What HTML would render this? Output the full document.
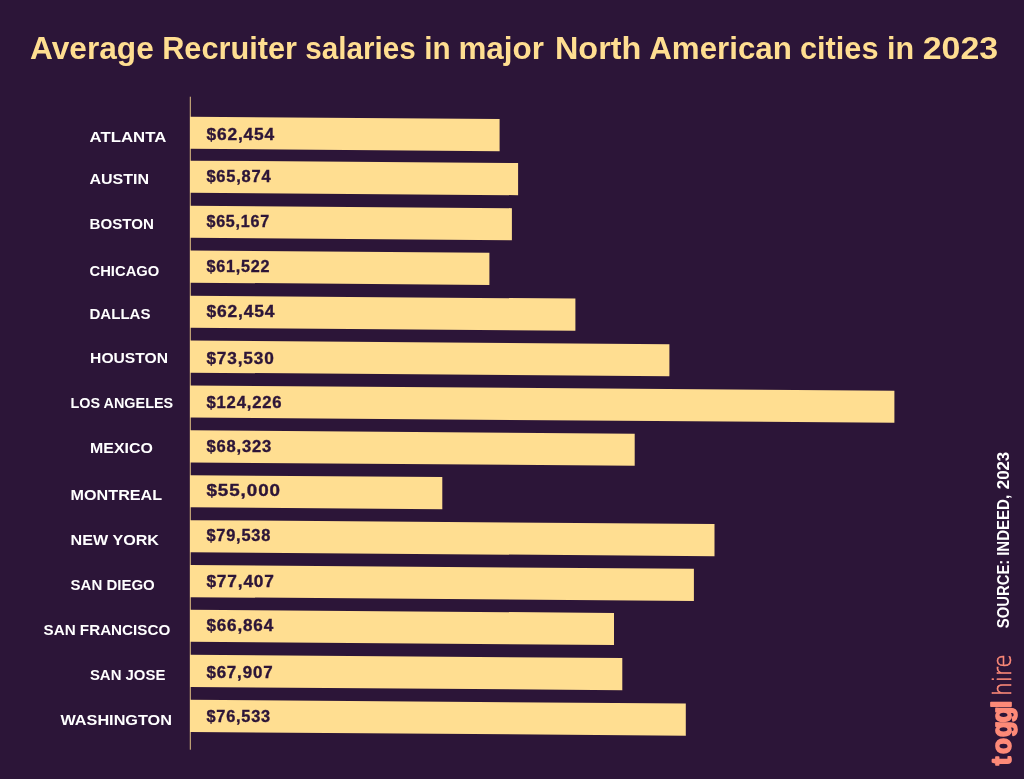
<!DOCTYPE html>
<html><head><meta charset="utf-8"><title>Average Recruiter salaries in major North American cities in 2023</title>
<style>
html,body{margin:0;padding:0;background:#2C1538;}
body{width:1024px;height:779px;overflow:hidden;}
svg{display:block;}
.title{font-family:"Liberation Sans",Arial,sans-serif;font-weight:700;font-size:30.8px;fill:#FFDE91;}
.lab{font-family:"Liberation Sans",Arial,sans-serif;font-weight:700;font-size:15.5px;fill:#FFFFFF;}
.val{font-family:"Liberation Sans",Arial,sans-serif;font-weight:700;font-size:16.2px;fill:#2C1538;letter-spacing:0.8px;stroke:#2C1538;stroke-width:0.35;}
.src{font-family:"Liberation Sans",Arial,sans-serif;font-weight:700;font-size:16.2px;fill:#FFFFFF;}
.tg{font-family:"Liberation Sans",Arial,sans-serif;font-weight:700;font-size:26px;fill:#FD8A78;stroke:#FD8A78;stroke-width:1.6;stroke-linejoin:round;}
.hr{font-family:"DejaVu Sans",sans-serif;font-weight:200;font-size:25px;fill:#FD8A78;stroke:#FD8A78;stroke-width:0.6;}
</style></head>
<body>
<svg width="1024" height="779" viewBox="0 0 1024 779">
<rect width="1024" height="779" fill="#2C1538"/>
<text class="title" y="58.6"><tspan x="30.00" textLength="123.76" lengthAdjust="spacingAndGlyphs">Average</tspan> <tspan x="162.20" textLength="134.76" lengthAdjust="spacingAndGlyphs">Recruiter</tspan> <tspan x="305.24" textLength="110.54" lengthAdjust="spacingAndGlyphs">salaries</tspan> <tspan x="424.20" textLength="26.32" lengthAdjust="spacingAndGlyphs">in</tspan> <tspan x="458.42" textLength="85.52" lengthAdjust="spacingAndGlyphs">major</tspan> <tspan x="554.96" textLength="86.36" lengthAdjust="spacingAndGlyphs">North</tspan> <tspan x="649.26" textLength="142.54" lengthAdjust="spacingAndGlyphs">American</tspan> <tspan x="800.00" textLength="78.52" lengthAdjust="spacingAndGlyphs">cities</tspan> <tspan x="886.94" textLength="27.12" lengthAdjust="spacingAndGlyphs">in</tspan> <tspan x="922.76" textLength="75.48" lengthAdjust="spacingAndGlyphs">2023</tspan></text>
<g fill="#FFDE91">
<polygon points="190.0,116.73 499.6,119.05 499.6,151.15 190.0,148.83"/>
<polygon points="190.0,160.63 518.1,163.09 518.1,195.19 190.0,192.73"/>
<polygon points="190.0,205.73 511.9,208.14 511.9,240.24 190.0,237.83"/>
<polygon points="190.0,250.53 489.4,252.78 489.4,284.88 190.0,282.63"/>
<polygon points="190.0,295.73 575.4,298.62 575.4,330.72 190.0,327.83"/>
<polygon points="190.0,340.53 669.4,344.13 669.4,376.23 190.0,372.63"/>
<polygon points="190.0,385.43 894.4,390.71 894.4,422.81 190.0,417.53"/>
<polygon points="190.0,430.33 634.7,433.67 634.7,465.77 190.0,462.43"/>
<polygon points="190.0,475.23 442.3,477.12 442.3,509.22 190.0,507.33"/>
<polygon points="190.0,520.13 714.5,524.06 714.5,556.16 190.0,552.23"/>
<polygon points="190.0,565.03 693.9,568.81 693.9,600.91 190.0,597.13"/>
<polygon points="190.0,609.73 614.0,612.91 614.0,645.01 190.0,641.83"/>
<polygon points="190.0,654.83 622.3,658.07 622.3,690.17 190.0,686.93"/>
<polygon points="190.0,699.83 685.8,703.55 685.8,735.65 190.0,731.93"/>
</g>
<rect x="189.8" y="96.7" width="1" height="653" fill="#FFDE91" opacity="0.85"/>
<g class="lab">
<text x="89.5" y="141.5" textLength="76.8" lengthAdjust="spacingAndGlyphs">ATLANTA</text>
<text x="89.5" y="184.4" textLength="59.6" lengthAdjust="spacingAndGlyphs">AUSTIN</text>
<text x="89.5" y="229.2" textLength="64.4" lengthAdjust="spacingAndGlyphs">BOSTON</text>
<text x="89.5" y="276.1" textLength="69.8" lengthAdjust="spacingAndGlyphs">CHICAGO</text>
<text x="89.5" y="319.0" textLength="61.0" lengthAdjust="spacingAndGlyphs">DALLAS</text>
<text x="90.1" y="362.8" textLength="77.9" lengthAdjust="spacingAndGlyphs">HOUSTON</text>
<text x="70.6" y="408.1" textLength="102.5" lengthAdjust="spacingAndGlyphs">LOS ANGELES</text>
<text x="90.1" y="453.2" textLength="62.7" lengthAdjust="spacingAndGlyphs">MEXICO</text>
<text x="70.6" y="500.3" textLength="91.5" lengthAdjust="spacingAndGlyphs">MONTREAL</text>
<text x="70.6" y="544.5" textLength="88.4" lengthAdjust="spacingAndGlyphs">NEW YORK</text>
<text x="70.6" y="589.9" textLength="84.2" lengthAdjust="spacingAndGlyphs">SAN DIEGO</text>
<text x="43.5" y="634.8" textLength="126.8" lengthAdjust="spacingAndGlyphs">SAN FRANCISCO</text>
<text x="89.9" y="680.1" textLength="75.5" lengthAdjust="spacingAndGlyphs">SAN JOSE</text>
<text x="60.4" y="725.1" textLength="111.6" lengthAdjust="spacingAndGlyphs">WASHINGTON</text>
</g>
<g class="val">
<text x="206.4" y="140.0" textLength="68.7" lengthAdjust="spacingAndGlyphs">$62,454</text>
<text x="206.4" y="182.1" textLength="65.1" lengthAdjust="spacingAndGlyphs">$65,874</text>
<text x="206.4" y="227.2" textLength="63.7" lengthAdjust="spacingAndGlyphs">$65,167</text>
<text x="206.4" y="272.3" textLength="64.0" lengthAdjust="spacingAndGlyphs">$61,522</text>
<text x="206.4" y="317.3" textLength="69.0" lengthAdjust="spacingAndGlyphs">$62,454</text>
<text x="206.4" y="363.8" textLength="68.2" lengthAdjust="spacingAndGlyphs">$73,530</text>
<text x="206.4" y="408.2" textLength="76.0" lengthAdjust="spacingAndGlyphs">$124,226</text>
<text x="206.4" y="451.5" textLength="65.6" lengthAdjust="spacingAndGlyphs">$68,323</text>
<text x="206.4" y="495.8" textLength="74.6" lengthAdjust="spacingAndGlyphs">$55,000</text>
<text x="206.4" y="541.0" textLength="64.8" lengthAdjust="spacingAndGlyphs">$79,538</text>
<text x="206.4" y="586.9" textLength="68.4" lengthAdjust="spacingAndGlyphs">$77,407</text>
<text x="206.4" y="631.2" textLength="67.6" lengthAdjust="spacingAndGlyphs">$66,864</text>
<text x="206.4" y="678.1" textLength="67.0" lengthAdjust="spacingAndGlyphs">$67,907</text>
<text x="206.4" y="721.5" textLength="64.6" lengthAdjust="spacingAndGlyphs">$76,533</text>
</g>
<text class="src" transform="translate(1009.2 628) rotate(-90)" y="0"><tspan x="-0.26" textLength="68.50" lengthAdjust="spacingAndGlyphs">SOURCE:</tspan> <tspan x="72.20" textLength="60.88" lengthAdjust="spacingAndGlyphs">INDEED,</tspan> <tspan x="138.82" textLength="37.26" lengthAdjust="spacingAndGlyphs">2023</tspan></text>
<g transform="translate(1012.2 765.5) rotate(-90)">
<text class="tg" transform="scale(1 1.05)" x="0.3 11.6 28.4 43.0 57.4" y="-1.0">toggl</text>
<text class="hr" x="69.5" y="-1.2" textLength="41.8" lengthAdjust="spacingAndGlyphs">hire</text>
</g>
</svg>
</body></html>
